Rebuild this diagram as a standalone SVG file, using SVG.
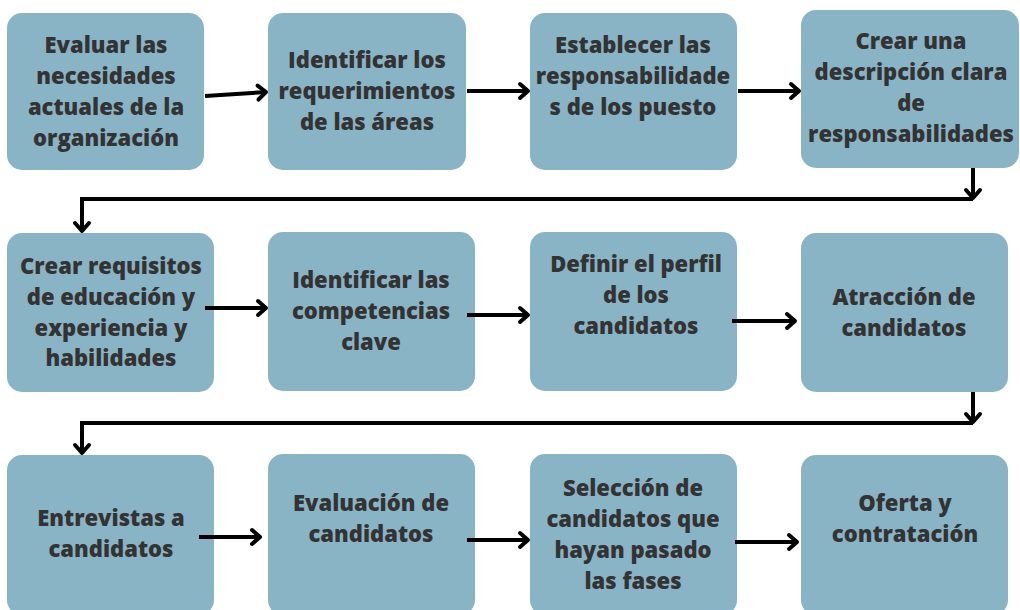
<svg xmlns="http://www.w3.org/2000/svg" width="1020" height="610" viewBox="0 0 1020 610">
<defs>
<marker id="ah" markerUnits="userSpaceOnUse" markerWidth="14" markerHeight="18" refX="9" refY="8" orient="auto" overflow="visible">
<path d="M1,1 L9,8 L1,15" fill="none" stroke="#000" stroke-width="4" stroke-linecap="round" stroke-linejoin="round"/>
</marker>
<style>
.box{fill:#89b4c6;}
.t{font-family:"Open Sans","Noto Sans","Liberation Sans",sans-serif;font-weight:800;font-size:22px;fill:#333333;text-anchor:middle;}
.c{fill:none;stroke:#000;stroke-width:4;marker-end:url(#ah);}
</style>
</defs>
<rect width="1020" height="610" fill="#ffffff"/>
<g id="n1"><rect class="box" x="7" y="13" width="197" height="157" rx="15"/>
<text class="t"><tspan x="106" y="53">Evaluar las</tspan><tspan x="106" y="84">necesidades</tspan><tspan x="106" y="115">actuales de la</tspan><tspan x="106" y="146">organización</tspan></text></g>
<g id="n2"><rect class="box" x="268" y="13" width="198" height="157" rx="15"/>
<text class="t"><tspan x="367" y="68">Identificar los</tspan><tspan x="367" y="99">requerimientos</tspan><tspan x="367" y="130">de las áreas</tspan></text></g>
<g id="n3"><rect class="box" x="530" y="13" width="207" height="157" rx="15"/>
<text class="t"><tspan x="633" y="53">Establecer las</tspan><tspan x="633" y="84">responsabilidade</tspan><tspan x="633" y="115">s de los puesto</tspan></text></g>
<g id="n4"><rect class="box" x="801" y="10" width="218" height="158" rx="15"/>
<text class="t"><tspan x="911" y="49">Crear una</tspan><tspan x="911" y="80">descripción clara</tspan><tspan x="911" y="111">de</tspan><tspan x="911" y="142">responsabilidades</tspan></text></g>
<g id="n5"><rect class="box" x="7" y="233" width="207" height="159" rx="15"/>
<text class="t"><tspan x="111" y="274">Crear requisitos</tspan><tspan x="111" y="305">de educación y</tspan><tspan x="111" y="336">experiencia y</tspan><tspan x="111" y="366">habilidades</tspan></text></g>
<g id="n6"><rect class="box" x="268" y="232" width="207" height="159" rx="15"/>
<text class="t"><tspan x="371" y="288">Identificar las</tspan><tspan x="371" y="319">competencias</tspan><tspan x="371" y="350">clave</tspan></text></g>
<g id="n7"><rect class="box" x="530" y="232" width="207" height="159" rx="15"/>
<text class="t"><tspan x="636" y="272">Definir el perfil</tspan><tspan x="636" y="303">de los</tspan><tspan x="636" y="334">candidatos</tspan></text></g>
<g id="n8"><rect class="box" x="801" y="233" width="207" height="159" rx="15"/>
<text class="t"><tspan x="904" y="305">Atracción de</tspan><tspan x="904" y="336">candidatos</tspan></text></g>
<g id="n9"><rect class="box" x="7" y="455" width="207" height="160" rx="15"/>
<text class="t"><tspan x="111" y="526">Entrevistas a</tspan><tspan x="111" y="557">candidatos</tspan></text></g>
<g id="n10"><rect class="box" x="268" y="454" width="207" height="161" rx="15"/>
<text class="t"><tspan x="371" y="511">Evaluación de</tspan><tspan x="371" y="542">candidatos</tspan></text></g>
<g id="n11"><rect class="box" x="530" y="454" width="207" height="161" rx="15"/>
<text class="t"><tspan x="633" y="496">Selección de</tspan><tspan x="633" y="527">candidatos que</tspan><tspan x="633" y="558">hayan pasado</tspan><tspan x="633" y="589">las fases</tspan></text></g>
<g id="n12"><rect class="box" x="801" y="455" width="207" height="160" rx="15"/>
<text class="t"><tspan x="905" y="511">Oferta y</tspan><tspan x="905" y="542">contratación</tspan></text></g>
<g id="connectors">
<path class="c" d="M205,96 L266,92"/>
<path class="c" d="M467,91 L528,91"/>
<path class="c" d="M738,91 L799,91"/>
<path class="c" d="M973,168 L973,198"/>
<path class="c" d="M973,199 L82,199 L82,231"/>
<path class="c" d="M205,308 L266,308"/>
<path class="c" d="M467,315 L528,315"/>
<path class="c" d="M732,321 L795,321"/>
<path class="c" d="M973,392 L973,422"/>
<path class="c" d="M973,423 L82,423 L82,453"/>
<path class="c" d="M199,537 L260,537"/>
<path class="c" d="M467,540 L528,540"/>
<path class="c" d="M735,542 L797,542"/>
</g>
</svg>
